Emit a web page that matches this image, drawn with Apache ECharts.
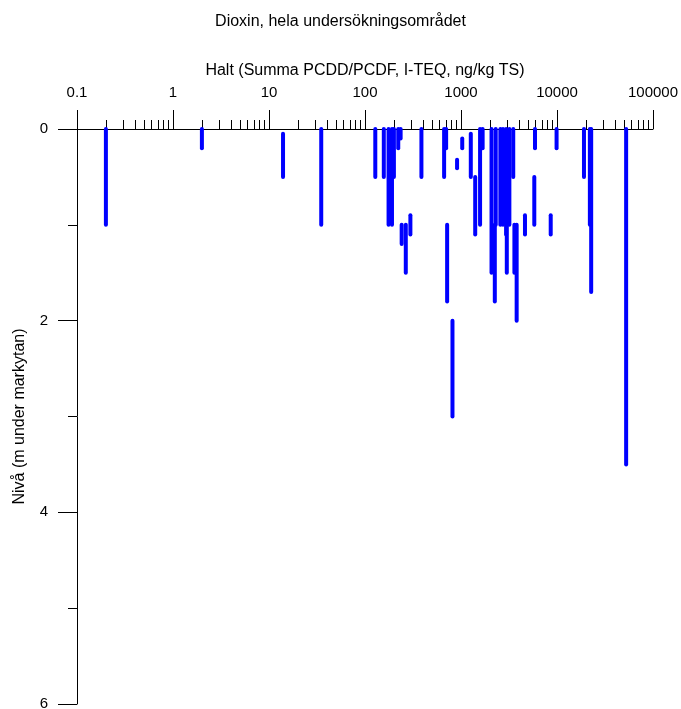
<!DOCTYPE html>
<html>
<head>
<meta charset="utf-8">
<script src="https://cdn.jsdelivr.net/npm/echarts@6/dist/echarts.min.js"></script>
<style>
  html, body { margin: 0; padding: 0; background: #fff; }
  #chart { width: 681px; height: 709px; }
</style>
</head>
<body>
<div id="chart"></div>
<script>
// Halt (ng/kg TS) per prov, med nivå överkant/underkant (m under markytan)
const halt = [
  0.2, 2.0, 14, 35, 128, 157, 176, 191, 200, 222, 235, 241, 266, 297,
  387, 667, 700, 717, 815, 910, 1030, 1265, 1406, 1580, 1680,
  2080, 2250, 2300, 2570, 2740, 2950, 3000, 3190, 3500, 3600, 3800,
  4640, 5900, 5800, 8600, 9900, 19100, 22000, 22700, 52500
];
const nivaTop = [
  0, 0, 0.05, 0, 0, 0, 0, 0, 0, 0, 0, 1.0, 1.0, 0.9,
  0, 0, 0, 1.0, 2.0, 0.32, 0.1, 0.05, 0.5, 0, 0,
  0, 1.0, 0, 0, 0, 0, 1.0, 0, 0, 1.0, 1.0,
  0.9, 0, 0.5, 0.9, 0, 0, 0, 0, 0
];
const nivaBottom = [
  1.0, 0.2, 0.5, 1.0, 0.5, 0.5, 1.0, 1.0, 0.5, 0.2, 0.1, 1.2, 1.5, 1.1,
  0.5, 0.5, 0.2, 1.8, 3.0, 0.41, 0.2, 0.5, 1.1, 1.0, 0.2,
  1.5, 1.8, 1.0, 1.0, 1.0, 1.1, 1.5, 1.0, 0.5, 1.5, 2.0,
  1.1, 0.2, 1.0, 1.1, 0.2, 0.5, 1.0, 1.7, 3.5
];

// axelindelning
const xMin = 0.1;
const xMax = 100000;
const yMin = 0;
const yMax = 6;

// små skalstreck 2..9 i varje dekad
const minorTicks = [];
for (let d = xMin; d < xMax; d *= 10) {
  for (let k = 2; k <= 9; k++) minorTicks.push(+(d * k).toPrecision(3));
}

const font = 'Liberation Sans, Arial, sans-serif';

const chart = echarts.init(document.getElementById('chart'));

const option = {
  backgroundColor: '#fff',
  animation: false,
  title: {
    text: 'Dioxin, hela undersökningsområdet',
    left: 'center',
    top: 9,
    textStyle: { fontFamily: font, fontSize: 16, fontWeight: 'normal', color: '#000' }
  },
  // outerBoundsMode 'none' så att "6" får klippas i nederkanten som i originalet
  grid: { left: 77, right: 28, top: 129, bottom: 5, outerBoundsMode: 'none' },
  xAxis: [
    {
      type: 'log',
      logBase: 10,
      position: 'top',
      min: xMin,
      max: xMax,
      name: 'Halt (Summa PCDD/PCDF, I-TEQ, ng/kg TS)',
      nameLocation: 'middle',
      nameGap: 50,
      nameTextStyle: { fontFamily: font, fontSize: 16, color: '#000' },
      axisLine: { show: true, lineStyle: { color: '#000', width: 1 } },
      axisTick: { show: true, length: 19, lineStyle: { color: '#000' } },
      axisLabel: {
        fontFamily: font, fontSize: 15, color: '#000', margin: 29,
        formatter: (v) => String(v)
      },
      splitLine: { show: false }
    },
    {
      type: 'log',
      logBase: 10,
      position: 'top',
      offset: 0,
      min: xMin,
      max: xMax,
      axisLine: { show: false },
      axisTick: { show: true, length: 9, customValues: minorTicks, lineStyle: { color: '#000' } },
      axisLabel: { show: false },
      splitLine: { show: false }
    }
  ],
  yAxis: {
    type: 'value',
    inverse: true,
    min: yMin,
    max: yMax,
    interval: 2,
    name: 'Nivå (m under markytan)',
    nameLocation: 'middle',
    nameGap: 49,
    nameTextStyle: { fontFamily: font, fontSize: 16, color: '#000' },
    axisLine: { show: true, lineStyle: { color: '#000', width: 1 } },
    axisTick: { show: true, length: 19, lineStyle: { color: '#000' } },
    minorTick: { show: true, splitNumber: 2, length: 9, lineStyle: { color: '#000' } },
    axisLabel: { fontFamily: font, fontSize: 15, color: '#000', margin: 29 },
    splitLine: { show: false },
    minorSplitLine: { show: false }
  },
  series: [
    {
      type: 'custom',
      xAxisIndex: 0,
      yAxisIndex: 0,
      encode: { x: 0, y: [1, 2] },
      data: halt.map((h, i) => [h, nivaTop[i], nivaBottom[i]]),
      renderItem: (params, api) => {
        const p1 = api.coord([api.value(0), api.value(1)]);
        const p2 = api.coord([api.value(0), api.value(2)]);
        return {
          type: 'line',
          shape: { x1: p1[0], y1: p1[1], x2: p2[0], y2: p2[1] },
          style: { stroke: '#0000ff', lineWidth: 4, lineCap: 'round' }
        };
      }
    }
  ]
};

chart.setOption(option);
</script>
</body>
</html>
